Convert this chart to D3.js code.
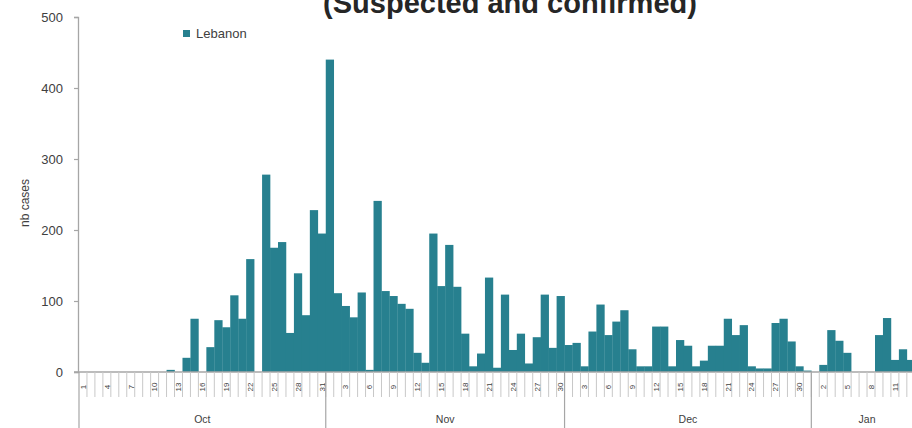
<!DOCTYPE html>
<html>
<head>
<meta charset="utf-8">
<script src="https://cdn.jsdelivr.net/npm/d3@7"></script>
<style>
  html, body { margin: 0; padding: 0; background: #fff; overflow: hidden; }
  svg { display: block; font-family: "Liberation Sans", "DejaVu Sans", sans-serif; }
</style>
</head>
<body>
<script>
// ---- data (daily case counts) ----
const months = ["Oct", "Nov", "Dec", "Jan"];
const octCases = [0,0,0,0,0,0,0,0,0,0, 0,3,0,20,75,0,35,73,63,108, 75,159,0,278,175,183,55,139,80,228, 195];
const novCases = [440,111,93,77,112,3,241,114,107,96, 89,27,13,195,121,179,120,54,8,26, 133,6,109,31,54,12,49,109,34,107];
const decCases = [38,41,8,57,95,52,71,87,32,8, 8,64,64,8,45,37,8,16,37,37, 75,52,66,8,5,5,69,75,43,8, 2];
const janCases = [0,10,59,44,27,0,0,0,52,76, 17,32,17,10];
const yTicks = [0, 100, 200, 300, 400, 500];
const seriesName = "Lebanon";
const titleText = "(Suspected and confirmed)";
const yLabel = "nb cases";

const monthData = [octCases, novCases, decCases, janCases];
const days = [];
monthData.forEach((arr, m) => arr.forEach((v, d) => days.push({ month: months[m], day: d + 1, value: v, idx: days.length })));

const W = 912, H = 428;
const x0 = 79, dayW = 7.96;
const svg = d3.select("body").append("svg").attr("width", W).attr("height", H);

const x = d3.scaleBand().domain(days.map(d => d.idx)).range([x0, x0 + dayW * days.length]).paddingInner(0).paddingOuter(0);
const y = d3.scaleLinear().domain([0, 500]).range([372, 17]);

const barColor = "#27808f";
const axisColor = "#a6a6a6";
const textColor = "#404040";

// title (partly cropped at top, as in the reference)
svg.append("text").attr("x", 510).attr("y", 13).attr("text-anchor", "middle")
  .attr("font-size", 29).attr("font-weight", "bold").attr("fill", "#262626").text(titleText);

// bars
svg.append("g").selectAll("rect").data(days).join("rect")
  .attr("x", d => x(d.idx)).attr("width", x.bandwidth() + 0.3)
  .attr("y", d => y(d.value)).attr("height", d => y(0) - y(d.value))
  .attr("fill", barColor);

// y axis
const yAxis = d3.axisLeft(y).tickValues(yTicks).tickSize(4).tickPadding(11);
const gy = svg.append("g").attr("transform", `translate(${x0 - 1},0)`).call(yAxis);
gy.select(".domain").attr("stroke", axisColor).attr("stroke-width", 1.3);
gy.selectAll(".tick line").attr("stroke", axisColor).attr("stroke-width", 1.2);
gy.selectAll(".tick text").attr("font-size", 13).attr("fill", textColor).attr("font-family", "Liberation Sans, sans-serif");

svg.append("text").attr("transform", `translate(29,203) rotate(-90)`).attr("text-anchor", "middle")
  .attr("font-size", 12).attr("fill", textColor).text(yLabel);

// x axis baseline
const xEnd = x0 + dayW * days.length;
svg.append("line").attr("x1", x0 - 5).attr("x2", xEnd).attr("y1", y(0)).attr("y2", y(0))
  .attr("stroke", axisColor).attr("stroke-width", 1.3);

// day tick lines (boundaries)
const gx = svg.append("g");
gx.selectAll("line.day").data(days.slice(1)).join("line").attr("class", "day")
  .attr("x1", d => x(d.idx)).attr("x2", d => x(d.idx))
  .attr("y1", y(0)).attr("y2", y(0) + 25)
  .attr("stroke", "#c8c8c8").attr("stroke-width", 1);

// day labels every 3 days (only those inside the visible frame)
gx.selectAll("text.day").data(days.filter(d => d.idx % 3 === 0 && x(d.idx) + x.bandwidth() < W)).join("text").attr("class", "day")
  .attr("transform", d => `translate(${x(d.idx) + x.bandwidth() / 2 + 2.8},387) rotate(-90)`)
  .attr("text-anchor", "middle").attr("font-size", 8).attr("fill", textColor)
  .text(d => d.day);

// month separators and labels
const monthStarts = [];
let acc = 0;
monthData.forEach((arr, m) => { monthStarts.push({ m: months[m], start: acc, len: arr.length }); acc += arr.length; });
gx.selectAll("line.month").data(monthStarts).join("line").attr("class", "month")
  .attr("x1", d => x(d.start)).attr("x2", d => x(d.start))
  .attr("y1", y(0)).attr("y2", H)
  .attr("stroke", axisColor).attr("stroke-width", 1.2);
gx.selectAll("text.month").data(monthStarts).join("text").attr("class", "month")
  .attr("x", d => x(d.start) + d.len * dayW / 2).attr("y", 423)
  .attr("text-anchor", "middle").attr("font-size", 10.5).attr("fill", textColor)
  .text(d => d.m);

// legend
const lg = svg.append("g").attr("transform", "translate(183,30)");
lg.append("rect").attr("width", 7).attr("height", 7).attr("fill", barColor);
lg.append("text").attr("x", 13).attr("y", 8).attr("font-size", 13).attr("fill", textColor).text(seriesName);
</script>
</body>
</html>
